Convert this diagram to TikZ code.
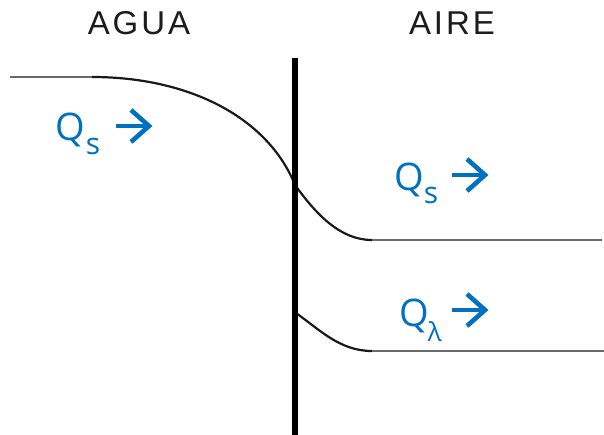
\documentclass[tikz,border=0pt]{standalone}
\usepackage{fontspec}
\setmainfont{Open Sans}
\newfontfamily\headfont[LetterSpace=9]{Liberation Sans}
\definecolor{flowblue}{HTML}{0070C0}
\definecolor{inkdark}{HTML}{1C1C1C}
\definecolor{levelgray}{HTML}{6A6A6A}
\begin{document}
\begin{tikzpicture}[x=1pt,y=-1pt,
  heading/.style={font=\headfont\fontsize{33}{33}\selectfont, text=inkdark, inner sep=0pt, anchor=base},
  flux/.style={font=\fontsize{38}{38}\selectfont, text=flowblue, inner sep=0pt, anchor=base west},
  profile/.style={line width=2.2pt, draw=black!90},
  level/.style={line width=2.6pt, draw=levelgray},
  wall/.style={line width=6.5pt, draw=black},
  flowarrow/.pic={
    \draw[flowblue, line width=4.4pt] (0,0) -- (32,0);
    \draw[flowblue, line width=4.6pt, miter limit=10] (15,-16) -- (33,0) -- (15,16);
  }]
  \useasboundingbox (0,0) rectangle (604,435);

  % headings of the two media
  \node[heading] (agua) at (139,35) {AGUA};
  \node[heading] (aire) at (452,35) {AIRE};

  % temperature profile: water side, then the two air-side profiles
  \coordinate (wtop) at (10,77);
  \coordinate (wbend) at (92,77);
  \coordinate (wmid) at (295,185);
  \coordinate (abend1) at (372,240);
  \coordinate (aend1) at (602,240);
  \coordinate (astart2) at (296,313);
  \coordinate (abend2) at (372,351);
  \coordinate (aend2) at (604,351);

  \draw[level] (wtop) -- (wbend);
  \draw[profile] (wbend) .. controls (190,77) and (268,118) .. (wmid);
  \draw[profile] (wmid) .. controls (316,214) and (340,240) .. (abend1);
  \draw[level] (abend1) -- (aend1);
  \draw[profile] (astart2) .. controls (320,330) and (340,351) .. (abend2);
  \draw[level] (abend2) -- (aend2);

  % separating wall
  \coordinate (walltop) at (295,58);
  \coordinate (wallbot) at (295,435);
  \draw[wall] (walltop) -- (wallbot);

  % heat fluxes
  \node[flux] (qsw) at (55,141) {Q\kern1pt\lower14pt\hbox{\fontsize{30}{30}\selectfont s}};
  \pic at (116,126) {flowarrow};
  \node[flux] (qsa) at (394,191) {Q\lower13pt\hbox{\fontsize{30}{30}\selectfont s}};
  \pic at (452,175) {flowarrow};
  \node[flux] (qla) at (399,326) {Q\kern-1pt\lower15pt\hbox{\fontsize{26}{26}\selectfont λ}};
  \pic at (452,310) {flowarrow};
\end{tikzpicture}
\end{document}
